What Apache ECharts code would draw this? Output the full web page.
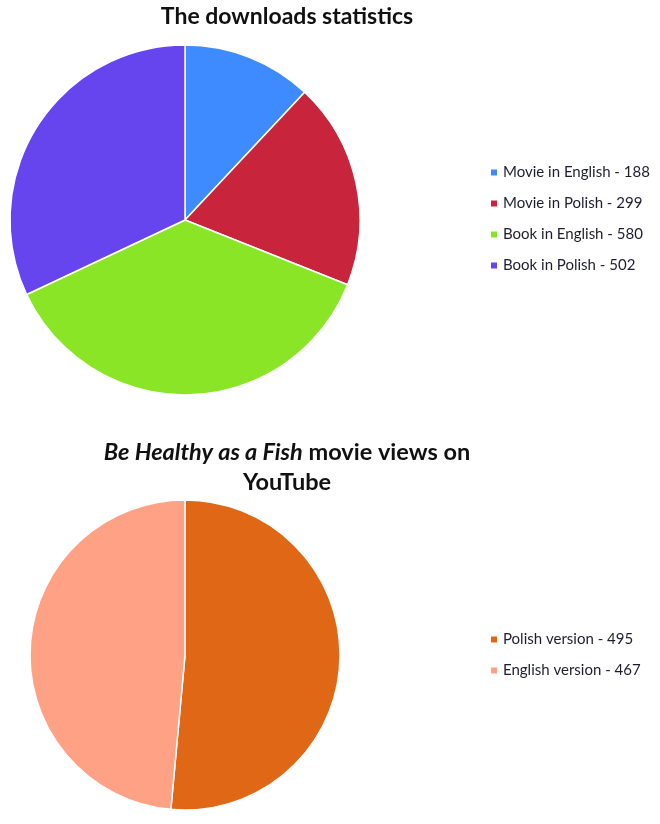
<!DOCTYPE html>
<html lang="en">
<head>
	<meta charset="utf-8">
	<title>Downloads and views</title>
	<script src="https://cdn.jsdelivr.net/npm/echarts@6/dist/echarts.min.js"></script>
	<style>
		html, body { margin: 0; padding: 0; background: #fff; }
		#panel { width: 660px; height: 824px; }
	</style>
</head>
<body>
	<div id="panel"></div>
	<script type="text/javascript">
		// downloads (top pie)
		const downloadNames = ["Movie in English", "Movie in Polish", "Book in English", "Book in Polish"];
		const downloadValues = [188, 299, 580, 502];
		const downloadColors = ["#3e8bff", "#c8253c", "#8ae526", "#6645ee"];
		// YouTube views (bottom pie)
		const viewNames = ["Polish version", "English version"];
		const viewValues = [495, 467];
		const viewColors = ["#e06716", "#ffa185"];

		const font = "Lato";
		const lookup = {};
		downloadNames.forEach((n, i) => lookup[n] = downloadValues[i]);
		viewNames.forEach((n, i) => lookup[n] = viewValues[i]);

		const panel = echarts.init(document.getElementById("panel"));
		const legendStyle = {
			orient: "vertical",
			left: 484,
			icon: "rect",
			itemWidth: 8,
			itemHeight: 8,
			itemGap: 16,
			textStyle: { fontFamily: font, fontSize: 15, color: "#1e1e30" },
			formatter: (name) => name + " - " + lookup[name]
		};
		const pieBase = {
			type: "pie",
			startAngle: 90,
			clockwise: true,
			label: { show: false },
			labelLine: { show: false },
			emphasis: { disabled: true },
			itemStyle: { borderColor: "#fff", borderWidth: 1.5 },
			animation: false
		};
		let option = {
			backgroundColor: "#fff",
			title: [{
				text: "The downloads statistics",
				left: 282,
				top: 0,
				textAlign: "center",
				textStyle: { fontFamily: font, fontSize: 23, fontWeight: "bold", color: "#111" }
			}, {
				text: "{i|Be Healthy as a Fish} movie views on\nYouTube",
				left: 282,
				top: 432,
				textAlign: "center",
				textStyle: {
					fontFamily: font, fontSize: 23.5, fontWeight: "bold", color: "#111", lineHeight: 30,
					rich: {
						i: { fontFamily: font, fontSize: 23.5, fontWeight: "bold", fontStyle: "italic", color: "#111", lineHeight: 30 }
					}
				}
			}],
			legend: [
				Object.assign({ top: 160, data: downloadNames }, legendStyle),
				Object.assign({ top: 627, data: viewNames }, legendStyle)
			],
			series: [
				Object.assign({}, pieBase, {
					center: [185, 220],
					radius: 175,
					data: downloadNames.map((n, i) => ({ name: n, value: downloadValues[i], itemStyle: { color: downloadColors[i] } }))
				}),
				Object.assign({}, pieBase, {
					center: [185, 655],
					radius: 155,
					data: viewNames.map((n, i) => ({ name: n, value: viewValues[i], itemStyle: { color: viewColors[i] } }))
				})
			]
		};
		panel.setOption(option);
	</script>
</body>
</html>
